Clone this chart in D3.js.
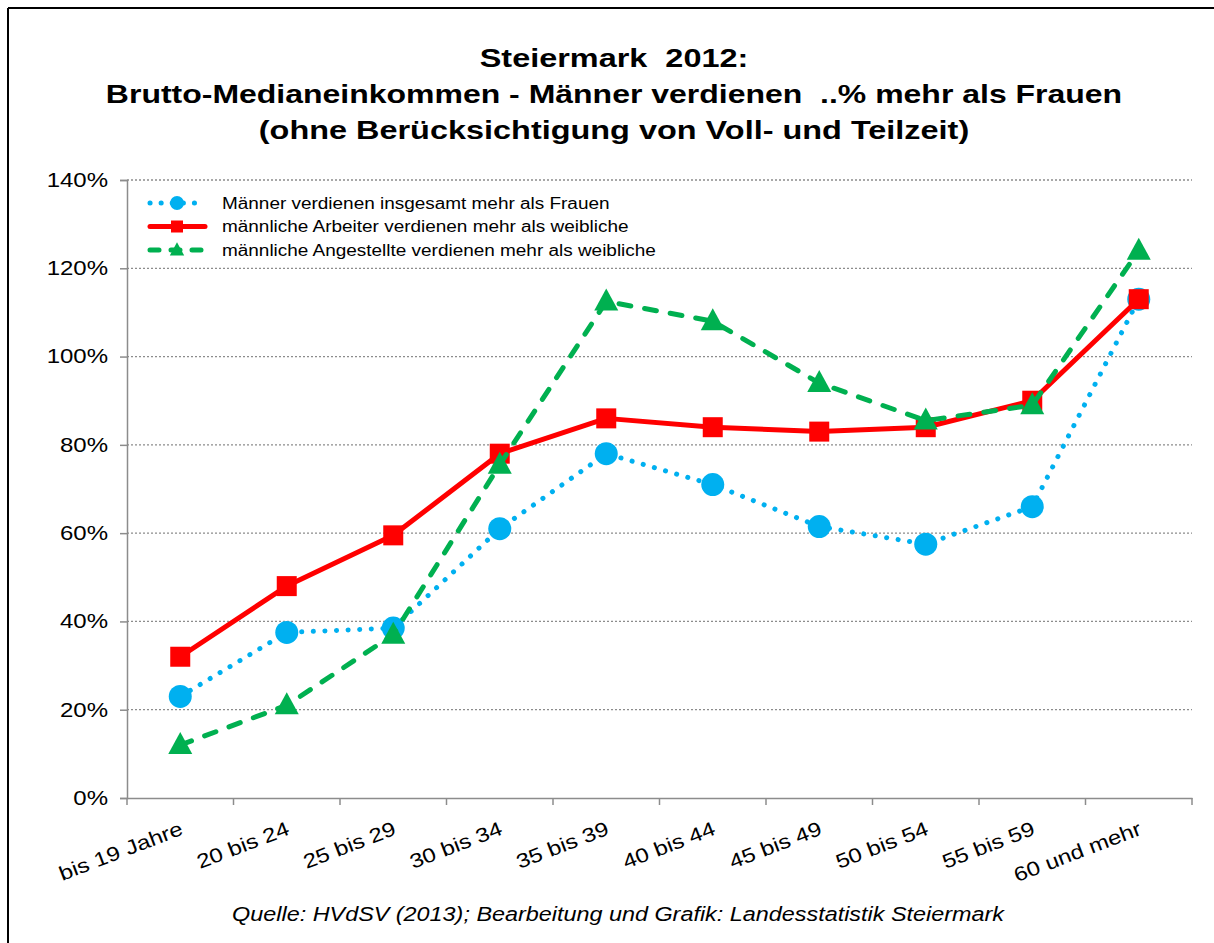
<!DOCTYPE html>
<html>
<head>
<meta charset="utf-8">
<script src="https://cdn.jsdelivr.net/npm/d3@7"></script>
<style>
  body { margin: 0; background: #fff; }
  svg text { font-family: "Liberation Sans", Arial, sans-serif; white-space: pre; }
</style>
</head>
<body>
<div id="chart"></div>
<script>
// data
const categories = ["bis 19 Jahre", "20 bis 24", "25 bis 29", "30 bis 34", "35 bis 39",
                    "40 bis 44", "45 bis 49", "50 bis 54", "55 bis 59", "60 und mehr"];
const gesamt     = [0.23, 0.375, 0.385, 0.61, 0.78, 0.71, 0.615, 0.575, 0.66, 1.13];
const arbeiter   = [0.32, 0.48, 0.595, 0.78, 0.86, 0.84, 0.83, 0.84, 0.90, 1.13];
const angestellt = [0.12, 0.21, 0.37, 0.755, 1.125, 1.08, 0.94, 0.855, 0.89, 1.24];
const yTicks = [0, 0.2, 0.4, 0.6, 0.8, 1.0, 1.2, 1.4];
const titleLines = ["Steiermark  2012:",
  "Brutto-Medianeinkommen - Männer verdienen  ..% mehr als Frauen",
  "(ohne Berücksichtigung von Voll- und Teilzeit)"];
const sourceText = "Quelle: HVdSV (2013); Bearbeitung und Grafik: Landesstatistik Steiermark";

const series = [
  {name: "Männer verdienen insgesamt mehr als Frauen", values: gesamt, color: "#00b0f0", marker: "circle", dash: "0.1 11.5", width: 5},
  {name: "männliche Arbeiter verdienen mehr als weibliche", values: arbeiter, color: "#ff0000", marker: "square", dash: null, width: 5},
  {name: "männliche Angestellte verdienen mehr als weibliche", values: angestellt, color: "#00b050", marker: "triangle", dash: "12 14", width: 5}
];

const W = 1214, H = 943;
const plot = {left: 127, right: 1192, top: 180, bottom: 798};
const stretch = 1.2; // the source fonts render wider than Liberation Sans

const svg = d3.select("#chart").append("svg")
    .attr("width", W)
    .attr("height", H);

svg.append("rect").attr("width", W).attr("height", H).attr("fill", "#fff");

// frame (only top & left visible in the crop)
svg.append("line").attr("x1", 8).attr("x2", W).attr("y1", 8).attr("y2", 8)
    .attr("stroke", "#000").attr("stroke-width", 2);
svg.append("line").attr("x1", 8).attr("x2", 8).attr("y1", 8).attr("y2", H)
    .attr("stroke", "#000").attr("stroke-width", 2);

// Title
svg.append("g").selectAll("text")
    .data(titleLines)
    .enter().append("text")
    .attr("transform", (d, i) => `translate(614,${67 + i * 36}) scale(${stretch * (i === 1 ? 1.006 : 1.02)},1)`)
    .attr("text-anchor", "middle")
    .style("font-weight", "bold")
    .style("font-size", "26.5px")
    .text(d => d);

// Scales
let x = d3.scaleBand().domain(categories).range([plot.left, plot.right]);
let y = d3.scaleLinear().domain([0, 1.4]).range([plot.bottom, plot.top]);

// grid
svg.append("g").selectAll("line")
    .data(yTicks.filter(d => d > 0))
    .enter().append("line")
    .attr("x1", plot.left).attr("x2", plot.right)
    .attr("y1", d => y(d)).attr("y2", d => y(d))
    .attr("stroke", "#8c8c8c")
    .attr("stroke-width", 1.3)
    .attr("stroke-dasharray", "2 2");

// y axis
let yAxis = svg.append("g")
    .attr("transform", `translate(${plot.left},0)`)
    .call(d3.axisLeft(y).tickValues(yTicks).tickFormat(d3.format(".0%")).tickSize(7));
yAxis.selectAll("path, line").attr("stroke", "#8c8c8c").attr("stroke-width", 1.5);
yAxis.selectAll("text")
    .attr("x", null)
    .attr("transform", `translate(-19,0) scale(${stretch},1)`)
    .style("font-size", "20px").attr("fill", "#000");

// x axis
let xAxis = svg.append("g")
    .attr("transform", `translate(0,${plot.bottom})`)
    .call(d3.axisBottom(x).tickSize(0).tickFormat(""));
xAxis.select("path").attr("stroke", "#8c8c8c").attr("stroke-width", 1.5);
xAxis.selectAll(".tick").remove();

let bounds = categories.map(c => x(c)).concat([plot.right]);
xAxis.append("g").selectAll("line")
    .data(bounds)
    .enter().append("line")
    .attr("x1", d => d).attr("x2", d => d)
    .attr("y1", 0).attr("y2", 7)
    .attr("stroke", "#8c8c8c").attr("stroke-width", 1.5);

svg.append("g").selectAll("text")
    .data(categories)
    .enter().append("text")
    .attr("text-anchor", "end")
    .attr("transform", d => `translate(${x(d) + x.bandwidth() / 2 - 1},${plot.bottom + 23}) rotate(-21) scale(${stretch},1)`)
    .attr("dy", "0.7em")
    .style("font-size", "20px")
    .text(d => d);

// markers
function drawMarker(g, type, color, cx, cy) {
  if (type === "circle") {
    g.append("circle").attr("cx", cx).attr("cy", cy).attr("r", 11.5).attr("fill", color);
  } else if (type === "square") {
    g.append("rect").attr("x", cx - 10).attr("y", cy - 10).attr("width", 20).attr("height", 20).attr("fill", color);
  } else {
    g.append("path").attr("transform", `translate(${cx},${cy})`)
      .attr("d", "M0,-13L12,9L-12,9Z").attr("fill", color);
  }
}

let line = d3.line()
    .x((d, i) => x(categories[i]) + x.bandwidth() / 2)
    .y(d => y(d));

series.forEach(s => {
  let g = svg.append("g");
  g.append("path")
    .datum(s.values)
    .attr("d", line)
    .attr("fill", "none")
    .attr("stroke", s.color)
    .attr("stroke-width", s.width)
    .attr("stroke-linecap", s.dash ? "round" : "butt")
    .attr("stroke-linejoin", "round")
    .attr("stroke-dasharray", s.dash);
  s.values.forEach((v, i) => drawMarker(g, s.marker, s.color, x(categories[i]) + x.bandwidth() / 2, y(v)));
});

// legend
let legend = svg.append("g").attr("transform", "translate(148,203)");
series.forEach((s, i) => {
  let row = legend.append("g").attr("transform", `translate(0,${i * 23.5})`);
  row.append("line")
    .attr("x1", 2).attr("x2", 57).attr("y1", 0).attr("y2", 0)
    .attr("stroke", s.color).attr("stroke-width", s.width)
    .attr("stroke-linecap", "round")
    .attr("stroke-dasharray", s.dash ? (s.marker === "circle" ? "0.1 11" : "9 12") : null);
  let m = row.append("g").attr("transform", "translate(29,0) scale(0.6)");
  drawMarker(m, s.marker, s.color, 0, 0);
  row.append("text")
    .attr("transform", `translate(74,0) scale(${stretch},1)`)
    .attr("dy", "0.35em")
    .style("font-size", "15.8px")
    .text(s.name);
});

// source
svg.append("text")
    .attr("transform", `translate(618,921) scale(${stretch},1)`)
    .attr("text-anchor", "middle")
    .style("font-style", "italic")
    .style("font-size", "19.5px")
    .text(sourceText);
</script>
</body>
</html>
